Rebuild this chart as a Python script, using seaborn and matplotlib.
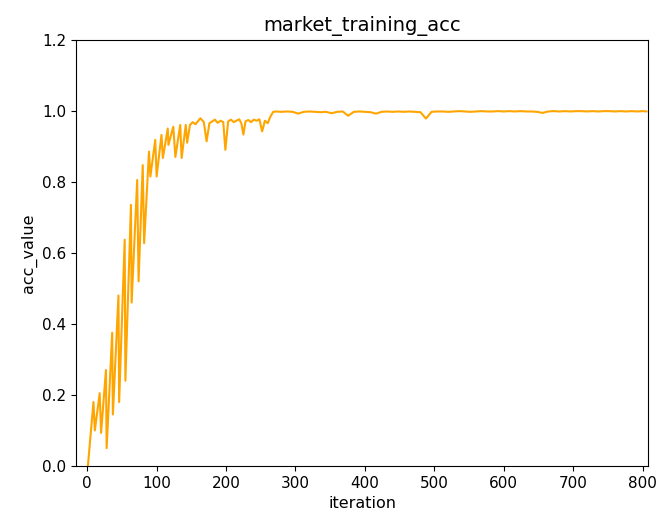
import numpy as np
import pandas as pd
import matplotlib
matplotlib.use("Agg")
import matplotlib.pyplot as plt
import seaborn as sns

# early sawtooth phase
early_iter = [1, 9, 11, 18, 20, 27, 28, 36, 37, 45, 46, 54, 55, 63, 64, 72, 74,
              80, 82, 89, 91, 98, 100, 107, 109, 116, 117, 124, 127, 134, 136,
              142, 144]
early_acc = [0.0, 0.18, 0.10, 0.205, 0.093, 0.27, 0.05, 0.375, 0.145, 0.48, 0.18,
             0.637, 0.24, 0.735, 0.46, 0.805, 0.52, 0.847, 0.627, 0.885, 0.815,
             0.918, 0.815, 0.932, 0.867, 0.95, 0.904, 0.955, 0.87, 0.96, 0.867,
             0.96, 0.91]

# middle phase ~0.97 with dips
mid_iter = [148, 152, 156, 160, 163, 168, 172, 176, 180, 184, 188, 192, 196, 199,
            203, 207, 211, 215, 219, 222, 225, 228, 232, 236, 240, 244, 248, 252,
            256, 260, 264, 268]
mid_acc = [0.96, 0.968, 0.962, 0.972, 0.979, 0.968, 0.914, 0.965, 0.97, 0.975,
           0.966, 0.972, 0.968, 0.89, 0.97, 0.975, 0.968, 0.972, 0.976, 0.965,
           0.933, 0.97, 0.974, 0.968, 0.975, 0.972, 0.976, 0.942, 0.972, 0.965,
           0.984, 0.997]

# plateau
late_iter = list(range(272, 801, 8)) + [806]
late_acc = [0.998, 0.997, 0.998, 0.997, 0.992, 0.997, 0.998, 0.997, 0.996, 0.997,
            0.993, 0.997, 0.998, 0.986, 0.997, 0.998, 0.997, 0.996, 0.992, 0.997,
            0.998, 0.997, 0.998, 0.997, 0.998, 0.997, 0.996, 0.978, 0.997, 0.998,
            0.998, 0.997, 0.998, 0.999, 0.998, 0.997, 0.998, 0.999, 0.998, 0.998,
            0.999, 0.998, 0.999, 0.998, 0.999, 0.998, 0.998, 0.997, 0.994, 0.998,
            0.999, 0.998, 0.999, 0.998, 0.999, 0.999, 0.998, 0.999, 0.998, 0.999,
            0.999, 0.998, 0.999, 0.998, 0.999, 0.998, 0.999, 0.998]

df = pd.DataFrame({
    "iteration": early_iter + mid_iter + late_iter,
    "acc_value": early_acc + mid_acc + late_acc,
})

sns.set_style("ticks")
plt.rcParams['font.family'] = ['DejaVu Sans']
plt.rcParams['text.color'] = 'black'
plt.rcParams['axes.labelcolor'] = 'black'
plt.rcParams['xtick.color'] = 'black'
plt.rcParams['ytick.color'] = 'black'

fig = plt.figure(figsize=(6.56, 5.16), dpi=100)
ax = fig.add_axes([0.116, 0.097, 0.872, 0.826])
sns.lineplot(data=df, x="iteration", y="acc_value", color="orange",
             linewidth=1.5, ax=ax)
ax.set_xlim(-16, 808)
ax.set_ylim(0, 1.2)
ax.set_xticks(range(0, 801, 100))
ax.set_yticks([0.0, 0.2, 0.4, 0.6, 0.8, 1.0, 1.2])
ax.set_title("market_training_acc", fontsize=14)
ax.set_xlabel("iteration", fontsize=11.5)
ax.set_ylabel("acc_value", fontsize=11.5)
ax.tick_params(labelsize=11)
for s in ax.spines.values():
    s.set_color("black")
fig.savefig("out.png", dpi=100)
